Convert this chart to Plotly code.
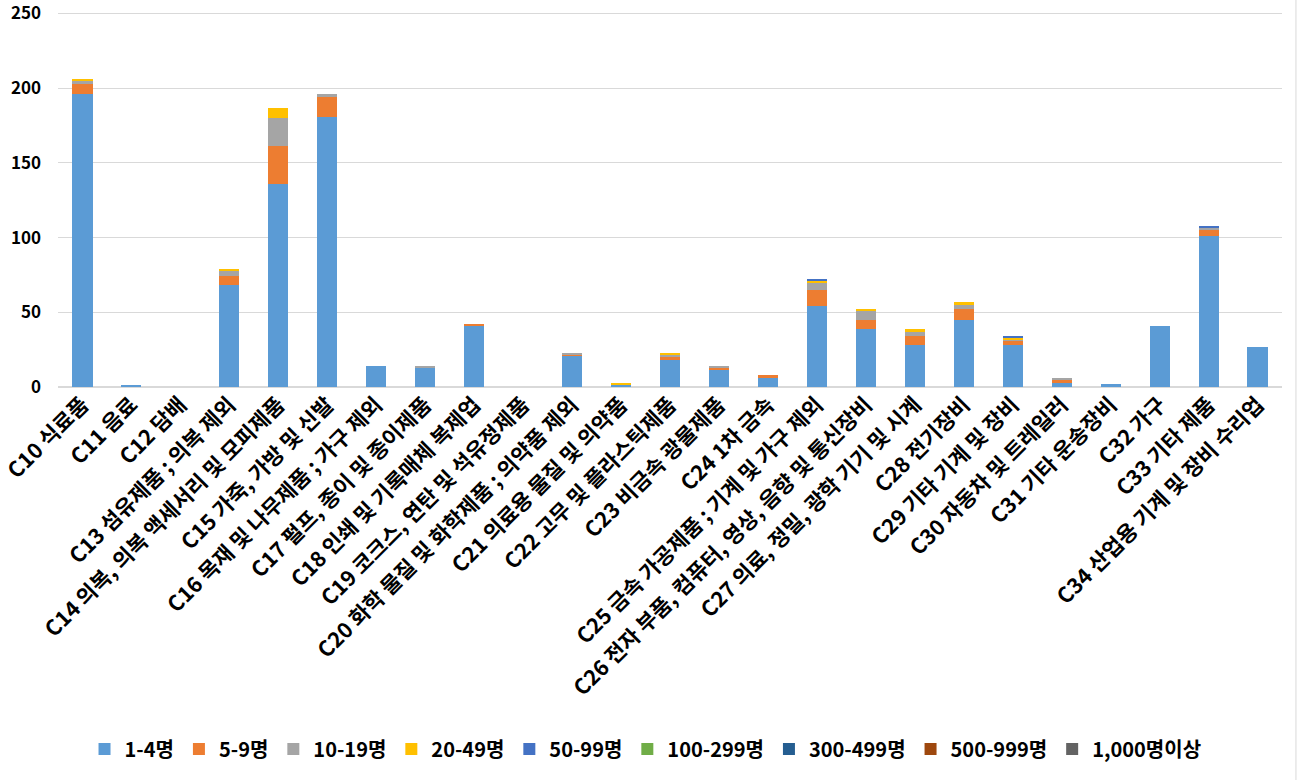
import plotly.graph_objects as go

categories = [
    "C10 식료품", "C11 음료", "C12 담배", "C13 섬유제품 ; 의복 제외",
    "C14 의복, 의복 액세서리 및 모피제품", "C15 가죽, 가방 및 신발",
    "C16 목재 및 나무제품 ; 가구 제외", "C17 펄프, 종이 및 종이제품",
    "C18 인쇄 및 기록매체 복제업", "C19 코크스, 연탄 및 석유정제품",
    "C20 화학 물질 및 화학제품 ; 의약품 제외", "C21 의료용 물질 및 의약품",
    "C22 고무 및 플라스틱제품", "C23 비금속 광물제품", "C24 1차 금속",
    "C25 금속 가공제품 ; 기계 및 가구 제외",
    "C26 전자 부품, 컴퓨터, 영상, 음향 및 통신장비",
    "C27 의료, 정밀, 광학 기기 및 시계", "C28 전기장비",
    "C29 기타 기계 및 장비", "C30 자동차 및 트레일러", "C31 기타 운송장비",
    "C32 가구", "C33 기타 제품", "C34 산업용 기계 및 장비 수리업",
]

s_1_4 =     [196, 1, 0, 68, 136, 181, 14, 13, 41, 0, 21, 2, 18, 12, 6, 54, 39, 28, 45, 28, 3, 2, 41, 101, 27]
s_5_9 =     [7,   0, 0, 6,  25,  13,  0,  0,  1,  0, 1,  0, 2,  1,  2, 11, 6,  6,  7,  3,  2, 0, 0,  4,   0]
s_10_19 =   [2,   0, 0, 4,  19,  2,   0,  1,  0,  0, 1,  0, 2,  1,  0, 5,  6,  3,  3,  1,  1, 0, 0,  2,   0]
s_20_49 =   [1,   0, 0, 1,  7,   0,   0,  0,  0,  0, 0,  1, 1,  0,  0, 1,  1,  2,  2,  1,  0, 0, 0,  0,   0]
s_50_99 =   [0,   0, 0, 0,  0,   0,   0,  0,  0,  0, 0,  0, 0,  0,  0, 1,  0,  0,  0,  1,  0, 0, 0,  1,   0]
s_100_299 = [0] * 25
s_300_499 = [0] * 25
s_500_999 = [0] * 25
s_1000 =    [0] * 25

series_names = ["1-4명", "5-9명", "10-19명", "20-49명", "50-99명",
                "100-299명", "300-499명", "500-999명", "1,000명이상"]
series_values = [s_1_4, s_5_9, s_10_19, s_20_49, s_50_99,
                 s_100_299, s_300_499, s_500_999, s_1000]
colors = ["#5B9BD5", "#ED7D31", "#A5A5A5", "#FFC000", "#4472C4",
          "#70AD47", "#255E91", "#9E480E", "#636363"]

y_ticks = [0, 50, 100, 150, 200, 250]

FONT = "Noto Sans CJK KR"

fig = go.Figure()
for name, vals, col in zip(series_names, series_values, colors):
    fig.add_trace(go.Bar(x=categories, y=vals, name=name,
                         marker=dict(color=col, line=dict(width=0))))

fig.update_layout(
    barmode="stack",
    bargap=0.59,
    width=1298, height=780,
    margin=dict(l=58, r=16, t=12, b=387),
    paper_bgcolor="white", plot_bgcolor="white",
    font=dict(family=FONT, size=16, color="black"),
    legend=dict(orientation="h", x=0.48, xanchor="center", y=-0.965, yanchor="middle",
                traceorder="normal",
                font=dict(family=FONT, size=20, color="black", weight="bold"),
                itemwidth=30, tracegroupgap=0),
    xaxis=dict(tickangle=-45, automargin=False, showgrid=False, showline=False,
               ticks="", tickfont=dict(family=FONT, size=21.5, color="black", weight="bold")),
    yaxis=dict(range=[0, 251], tickvals=y_ticks, showgrid=True, gridcolor="#D9D9D9",
               gridwidth=1, zeroline=True, zerolinecolor="#D9D9D9", showline=False,
               ticks="", ticklabelstandoff=16, automargin=False,
               ticklabeloverflow="allow",
               tickfont=dict(family=FONT, size=17, color="black", weight="bold")),
    shapes=[dict(type="line", xref="paper", yref="paper", x0=1.0114, x1=1.0114,
                 y0=-1.05, y1=1.05, line=dict(color="#D9D9D9", width=1))],
    showlegend=True,
)

fig.write_html("out.html", config={"displayModeBar": False},
               post_script="document.body.style.margin='0px';")
